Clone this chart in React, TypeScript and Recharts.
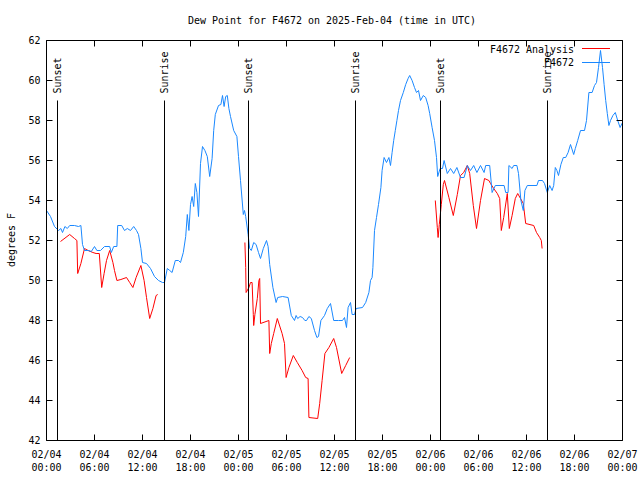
import React from 'react';
import { LineChart, Line, XAxis, YAxis, ReferenceLine } from 'recharts';

const FONT = '"DejaVu Sans Mono", "Liberation Mono", monospace';
const FS = 11;
const CW = 6; // char advance of the reference font

// x is hours since 2025-02-04 00:00 UTC
const xTickHours = [0, 6, 12, 18, 24, 30, 36, 42, 48, 54, 60, 66, 72];
const xTickDates = ['02/04', '02/04', '02/04', '02/04', '02/05', '02/05', '02/05', '02/05', '02/06', '02/06', '02/06', '02/06', '02/07'];
const xTickTimes = ['00:00', '06:00', '12:00', '18:00', '00:00', '06:00', '12:00', '18:00', '00:00', '06:00', '12:00', '18:00', '00:00'];
const yTicks = [42, 44, 46, 48, 50, 52, 54, 56, 58, 60, 62];

const sunLabels = ['Sunset', 'Sunrise', 'Sunset', 'Sunrise', 'Sunset', 'Sunrise'];
const sunHours = [1.375, 14.75, 25.25, 38.625, 49.25, 62.625];

// F4672 station obs [hour, degF]
const station: [number, number][] = [
  [0, 53.5], [0.5, 53.2], [1, 52.7], [1.5, 52.5], [1.8, 52.6], [2, 52.4], [2.3, 52.7], [2.6, 52.6], [2.9, 52.75],
  [3.5, 52.75], [4, 52.7], [4.3, 52.75], [4.5, 51.8], [4.75, 51.5], [5.25, 51.5], [5.6, 51.45], [6, 51.7], [6.3, 51.5],
  [6.75, 51.5], [7.25, 51.7], [7.9, 51.7], [8.1, 51.4], [8.4, 51.7], [8.8, 51.7], [8.9, 52.75], [9.4, 52.75], [9.75, 52.5],
  [10.1, 52.6], [10.5, 52.5], [10.9, 52.7], [11.25, 52.5], [11.5, 52.3], [11.8, 51.6], [12, 50.9], [12.5, 50.85], [13, 50.6],
  [13.5, 50.2], [14, 50.0], [14.5, 49.9], [14.75, 49.9], [15.1, 50.6], [15.4, 50.5], [15.7, 50.4], [16.1, 51.0], [16.5, 51.0],
  [16.75, 50.9], [17.1, 51.4], [17.4, 52.2], [17.6, 53.3], [17.8, 52.5], [18.0, 53.8], [18.2, 54.2], [18.4, 53.7], [18.6, 54.85],
  [18.8, 54.4], [19.0, 53.2], [19.25, 55.85], [19.5, 56.7], [19.8, 56.5], [20.1, 56.2], [20.4, 55.2], [20.7, 56.1], [20.9, 57.5],
  [21.1, 58.3], [21.5, 58.75], [21.8, 58.8], [22.0, 59.25], [22.2, 58.7], [22.4, 59.2], [22.6, 59.25], [22.8, 58.6], [23, 58.2],
  [23.4, 57.5], [23.8, 57.2], [24.0, 56.2], [24.25, 55.0], [24.6, 53.3], [24.75, 53.5], [24.9, 53.2], [25.2, 52.3], [25.4, 51.6],
  [25.6, 51.5], [25.9, 51.9], [26.2, 51.8], [26.5, 51.4], [26.75, 51.1], [27.1, 51.6], [27.5, 52.0], [27.7, 51.7], [27.9, 50.8],
  [28.3, 49.65], [28.7, 48.9], [28.9, 49.15], [29.5, 49.2], [30.2, 49.15], [30.6, 48.25], [31, 48.0], [31.2, 48.25], [31.4, 48.1],
  [31.7, 48.2], [32, 48.15], [32.3, 48.0], [32.5, 48.0], [32.8, 48.2], [33.1, 48.1], [33.5, 47.5], [33.8, 47.15], [34.0, 47.2],
  [34.3, 48.0], [34.75, 48.25], [35.1, 48.6], [35.5, 48.85], [35.9, 48.0], [36.5, 48.0], [37, 48.0], [37.25, 48.15], [37.5, 47.65],
  [37.7, 48.65], [38, 48.9], [38.2, 48.3], [38.5, 48.3], [38.7, 48.6], [39.5, 48.65], [39.9, 48.9], [40.3, 49.4], [40.5, 50.0],
  [40.7, 50.15], [40.8, 50.65], [41, 52.5], [41.25, 53.15], [41.5, 53.8], [41.8, 54.65], [41.95, 55.5], [42.2, 56.15], [42.5, 55.9],
  [42.8, 56.15], [43, 55.75], [43.2, 56.4], [43.4, 57.0], [43.6, 57.5], [43.8, 58.0], [44, 58.5], [44.25, 59.0], [44.6, 59.4],
  [44.9, 59.8], [45.2, 60.1], [45.4, 60.25], [45.7, 60.0], [46, 59.65], [46.25, 59.4], [46.5, 59.5], [46.75, 59.0], [47.1, 59.25],
  [47.4, 59.15], [47.7, 58.75], [47.9, 58.35], [48.2, 57.65], [48.5, 57.0], [48.75, 56.15], [48.9, 55.2], [49.2, 55.6], [49.5, 55.6],
  [49.7, 56.0], [50.1, 55.35], [50.5, 55.6], [50.9, 55.35], [51.3, 55.65], [51.75, 55.15], [52.2, 55.15], [52.6, 55.75], [53, 55.5],
  [53.4, 55.75], [53.8, 55.4], [54.25, 55.75], [54.7, 55.4], [54.9, 55.75], [55.4, 55.75], [55.7, 54.4], [56.1, 54.75], [57.2, 54.75],
  [57.4, 54.4], [57.7, 54.4], [57.8, 55.75], [58.2, 55.6], [58.4, 55.75], [58.8, 55.75], [59, 55.35], [59.3, 54.0], [59.6, 53.5],
  [59.8, 54.5], [60.1, 54.75], [61.3, 54.75], [61.5, 55.0], [62, 55.0], [62.25, 54.85], [62.6, 54.4], [62.9, 54.75], [63.2, 54.5],
  [63.4, 54.75], [63.6, 55.65], [63.8, 55.5], [64, 55.25], [64.3, 55.8], [64.6, 56.15], [64.9, 56.15], [65.2, 56.4], [65.5, 56.8],
  [65.9, 56.3], [66.1, 56.6], [66.4, 57.0], [66.75, 57.5], [67.25, 57.5], [67.5, 58.0], [67.8, 59.4], [68.2, 59.4], [68.5, 59.75],
  [68.75, 59.9], [69, 60.65], [69.25, 61.5], [69.5, 60.65], [69.7, 59.8], [69.9, 59.0], [70.1, 58.35], [70.3, 57.75], [70.5, 58.0],
  [70.8, 58.25], [71.1, 58.4], [71.4, 58.0], [71.7, 57.65], [72, 57.9],
];

// F4672 Analysis, three separate runs
const analysisA: [number, number][] = [
  [1.75, 51.95], [2.9, 52.3], [3.5, 52.1], [3.8, 52.0], [3.9, 50.35], [4.3, 50.85], [4.75, 51.6], [5.2, 51.5], [5.8, 51.4],
  [6.2, 51.35], [6.6, 51.35], [6.9, 49.65], [7.2, 50.35], [7.5, 51.0], [7.9, 51.5], [8.3, 50.9], [8.5, 50.5], [8.8, 50.0],
  [9.3, 50.05], [10, 50.15], [10.4, 49.9], [10.8, 49.65], [11.2, 50.15], [11.8, 50.75], [12.2, 50.0], [12.5, 49.15], [12.9, 48.1],
  [13.3, 48.6], [13.7, 49.25], [13.9, 49.3],
];
const analysisB: [number, number][] = [
  [24.8, 51.9], [24.9, 50.65], [24.95, 49.4], [25.3, 49.65], [25.5, 49.9], [25.7, 49.9], [25.85, 48.3], [25.9, 47.75], [26.05, 48.3],
  [26.35, 49.1], [26.55, 50.0], [26.65, 50.1], [26.75, 47.85], [27.8, 48.0], [27.9, 46.35], [28.1, 46.85], [28.4, 47.35], [28.85, 48.1],
  [29.45, 47.35], [29.75, 46.85], [29.95, 45.15], [30.3, 45.65], [30.85, 46.25], [31.35, 45.9], [31.95, 45.5], [32.4, 45.15], [32.7, 45.1],
  [32.8, 43.15], [33.9, 43.1], [34.15, 43.85], [34.45, 45.0], [34.8, 46.35], [35.3, 46.65], [35.9, 47.1], [36.25, 46.65], [36.9, 45.35],
  [37.4, 45.75], [37.9, 46.15],
];
const analysisC: [number, number][] = [
  [48.6, 54.0], [48.85, 52.65], [48.95, 52.15], [49.1, 52.8], [49.35, 53.8], [49.6, 54.8], [49.75, 55.0], [50.3, 54.15], [50.85, 53.25],
  [51.35, 54.3], [51.75, 55.25], [52.15, 55.4], [52.6, 55.75], [52.9, 55.35], [53.35, 53.75], [53.75, 52.6], [54.25, 54.0], [54.75, 55.1],
  [55.3, 55.0], [55.5, 54.85], [55.9, 54.6], [56.35, 54.35], [56.65, 54.1], [56.85, 52.5], [57.15, 53.15], [57.6, 54.35], [57.85, 52.6],
  [58.2, 53.25], [58.6, 54.1], [58.9, 54.35], [59.25, 54.1], [59.6, 53.85], [59.9, 52.85], [60.9, 52.75], [61.25, 52.4], [61.65, 52.15],
  [61.85, 52.0], [61.95, 51.6],
];

const RED = '#ff0000';
const BLUE = '#1a88ff';

const rows = (pts: [number, number][]) => pts.map(([t, v]) => ({ t, v }));

const Mono = ({ children, ...rest }: any) => (
  <text
    fontFamily={FONT}
    fontSize={FS}
    fill="#000"
    textLength={String(children).length * CW}
    lengthAdjust="spacingAndGlyphs"
    {...rest}
  >
    {children}
  </text>
);

// ticks point into the plot, like the original
const BottomTick = (props: any) => {
  const { x, y, payload } = props;
  const i = xTickHours.indexOf(payload.value);
  return (
    <g>
      <line x1={x} y1={y} x2={x} y2={y - 6} stroke="#000" />
      <Mono x={x} y={y + 17} textAnchor="middle">{xTickDates[i]}</Mono>
      <Mono x={x} y={y + 30} textAnchor="middle">{xTickTimes[i]}</Mono>
    </g>
  );
};

const TopTick = (props: any) => {
  const { x, y } = props;
  return <line x1={x} y1={y} x2={x} y2={y + 6} stroke="#000" />;
};

const LeftTick = (props: any) => {
  const { x, y, payload } = props;
  return (
    <g>
      <line x1={x} y1={y} x2={x + 6} y2={y} stroke="#000" />
      <Mono x={x - 6} y={y} dy="0.35em" textAnchor="end">{String(payload.value)}</Mono>
    </g>
  );
};

const RightTick = (props: any) => {
  const { x, y } = props;
  return <line x1={x} y1={y} x2={x - 6} y2={y} stroke="#000" />;
};

const sunLabel = (text: string) => (props: any) => {
  const { viewBox } = props;
  const x = viewBox.x;
  const y = viewBox.y - 7;
  return (
    <Mono x={x} y={y} dy="0.35em" textAnchor="start" transform={`rotate(-90 ${x} ${y})`}>
      {text}
    </Mono>
  );
};

export default function App() {
  return (
    <div style={{ position: 'absolute', left: 0, top: 0, width: 640, height: 480, background: '#fff' }}>
      <LineChart width={640} height={480} margin={{ top: 0.5, right: 0, bottom: 0, left: 0.5 }}>
        <XAxis
          dataKey="t"
          type="number"
          domain={[0, 72]}
          ticks={xTickHours}
          interval={0}
          allowDataOverflow
          height={39.5}
          tickSize={0}
          tickMargin={0}
          tickLine={false}
          axisLine={{ stroke: '#000' }}
          tick={<BottomTick />}
        />
        <XAxis
          xAxisId="top"
          orientation="top"
          dataKey="t"
          type="number"
          domain={[0, 72]}
          ticks={xTickHours}
          interval={0}
          allowDataOverflow
          height={40}
          tickSize={0}
          tickMargin={0}
          tickLine={false}
          axisLine={{ stroke: '#000' }}
          tick={<TopTick />}
        />
        <YAxis
          type="number"
          domain={[42, 62]}
          ticks={yTicks}
          interval={0}
          allowDataOverflow
          width={46}
          tickSize={0}
          tickMargin={0}
          tickLine={false}
          axisLine={{ stroke: '#000' }}
          tick={<LeftTick />}
        />
        <YAxis
          yAxisId="right"
          orientation="right"
          type="number"
          domain={[42, 62]}
          ticks={yTicks}
          interval={0}
          allowDataOverflow
          width={17.5}
          tickSize={0}
          tickMargin={0}
          tickLine={false}
          axisLine={{ stroke: '#000' }}
          tick={<RightTick />}
        />

        {[analysisA, analysisB, analysisC].map((seg, i) => (
          <Line
            key={`an-${i}`}
            data={rows(seg)}
            dataKey="v"
            name="F4672 Analysis"
            type="linear"
            stroke={RED}
            strokeWidth={1}
            dot={false}
            isAnimationActive={false}
          />
        ))}
        <Line
          data={rows(station)}
          dataKey="v"
          name="F4672"
          type="linear"
          stroke={BLUE}
          strokeWidth={1}
          dot={false}
          isAnimationActive={false}
        />

        {sunHours.map((h, i) => (
          <ReferenceLine
            key={`sun-${i}`}
            segment={[{ x: h, y: 59 }, { x: h, y: 42 }]}
            stroke="#000"
            strokeWidth={1}
            ifOverflow="visible"
            label={sunLabel(sunLabels[i])}
          />
        ))}
      </LineChart>

      <svg
        width={640}
        height={480}
        style={{ position: 'absolute', left: 0, top: 0, pointerEvents: 'none' }}
      >
        <Mono x={332} y={20} dy="0.35em" textAnchor="middle">
          Dew Point for F4672 on 2025-Feb-04 (time in UTC)
        </Mono>
        <Mono x={11} y={240} dy="0.35em" textAnchor="middle" transform="rotate(-90 11 240)">
          degrees F
        </Mono>
        <Mono x={574} y={49} dy="0.35em" textAnchor="end">F4672 Analysis</Mono>
        <line x1={582} y1={48.5} x2={610} y2={48.5} stroke={RED} />
        <Mono x={574} y={62} dy="0.35em" textAnchor="end">F4672</Mono>
        <line x1={582} y1={62.5} x2={610} y2={62.5} stroke={BLUE} />
      </svg>
    </div>
  );
}
